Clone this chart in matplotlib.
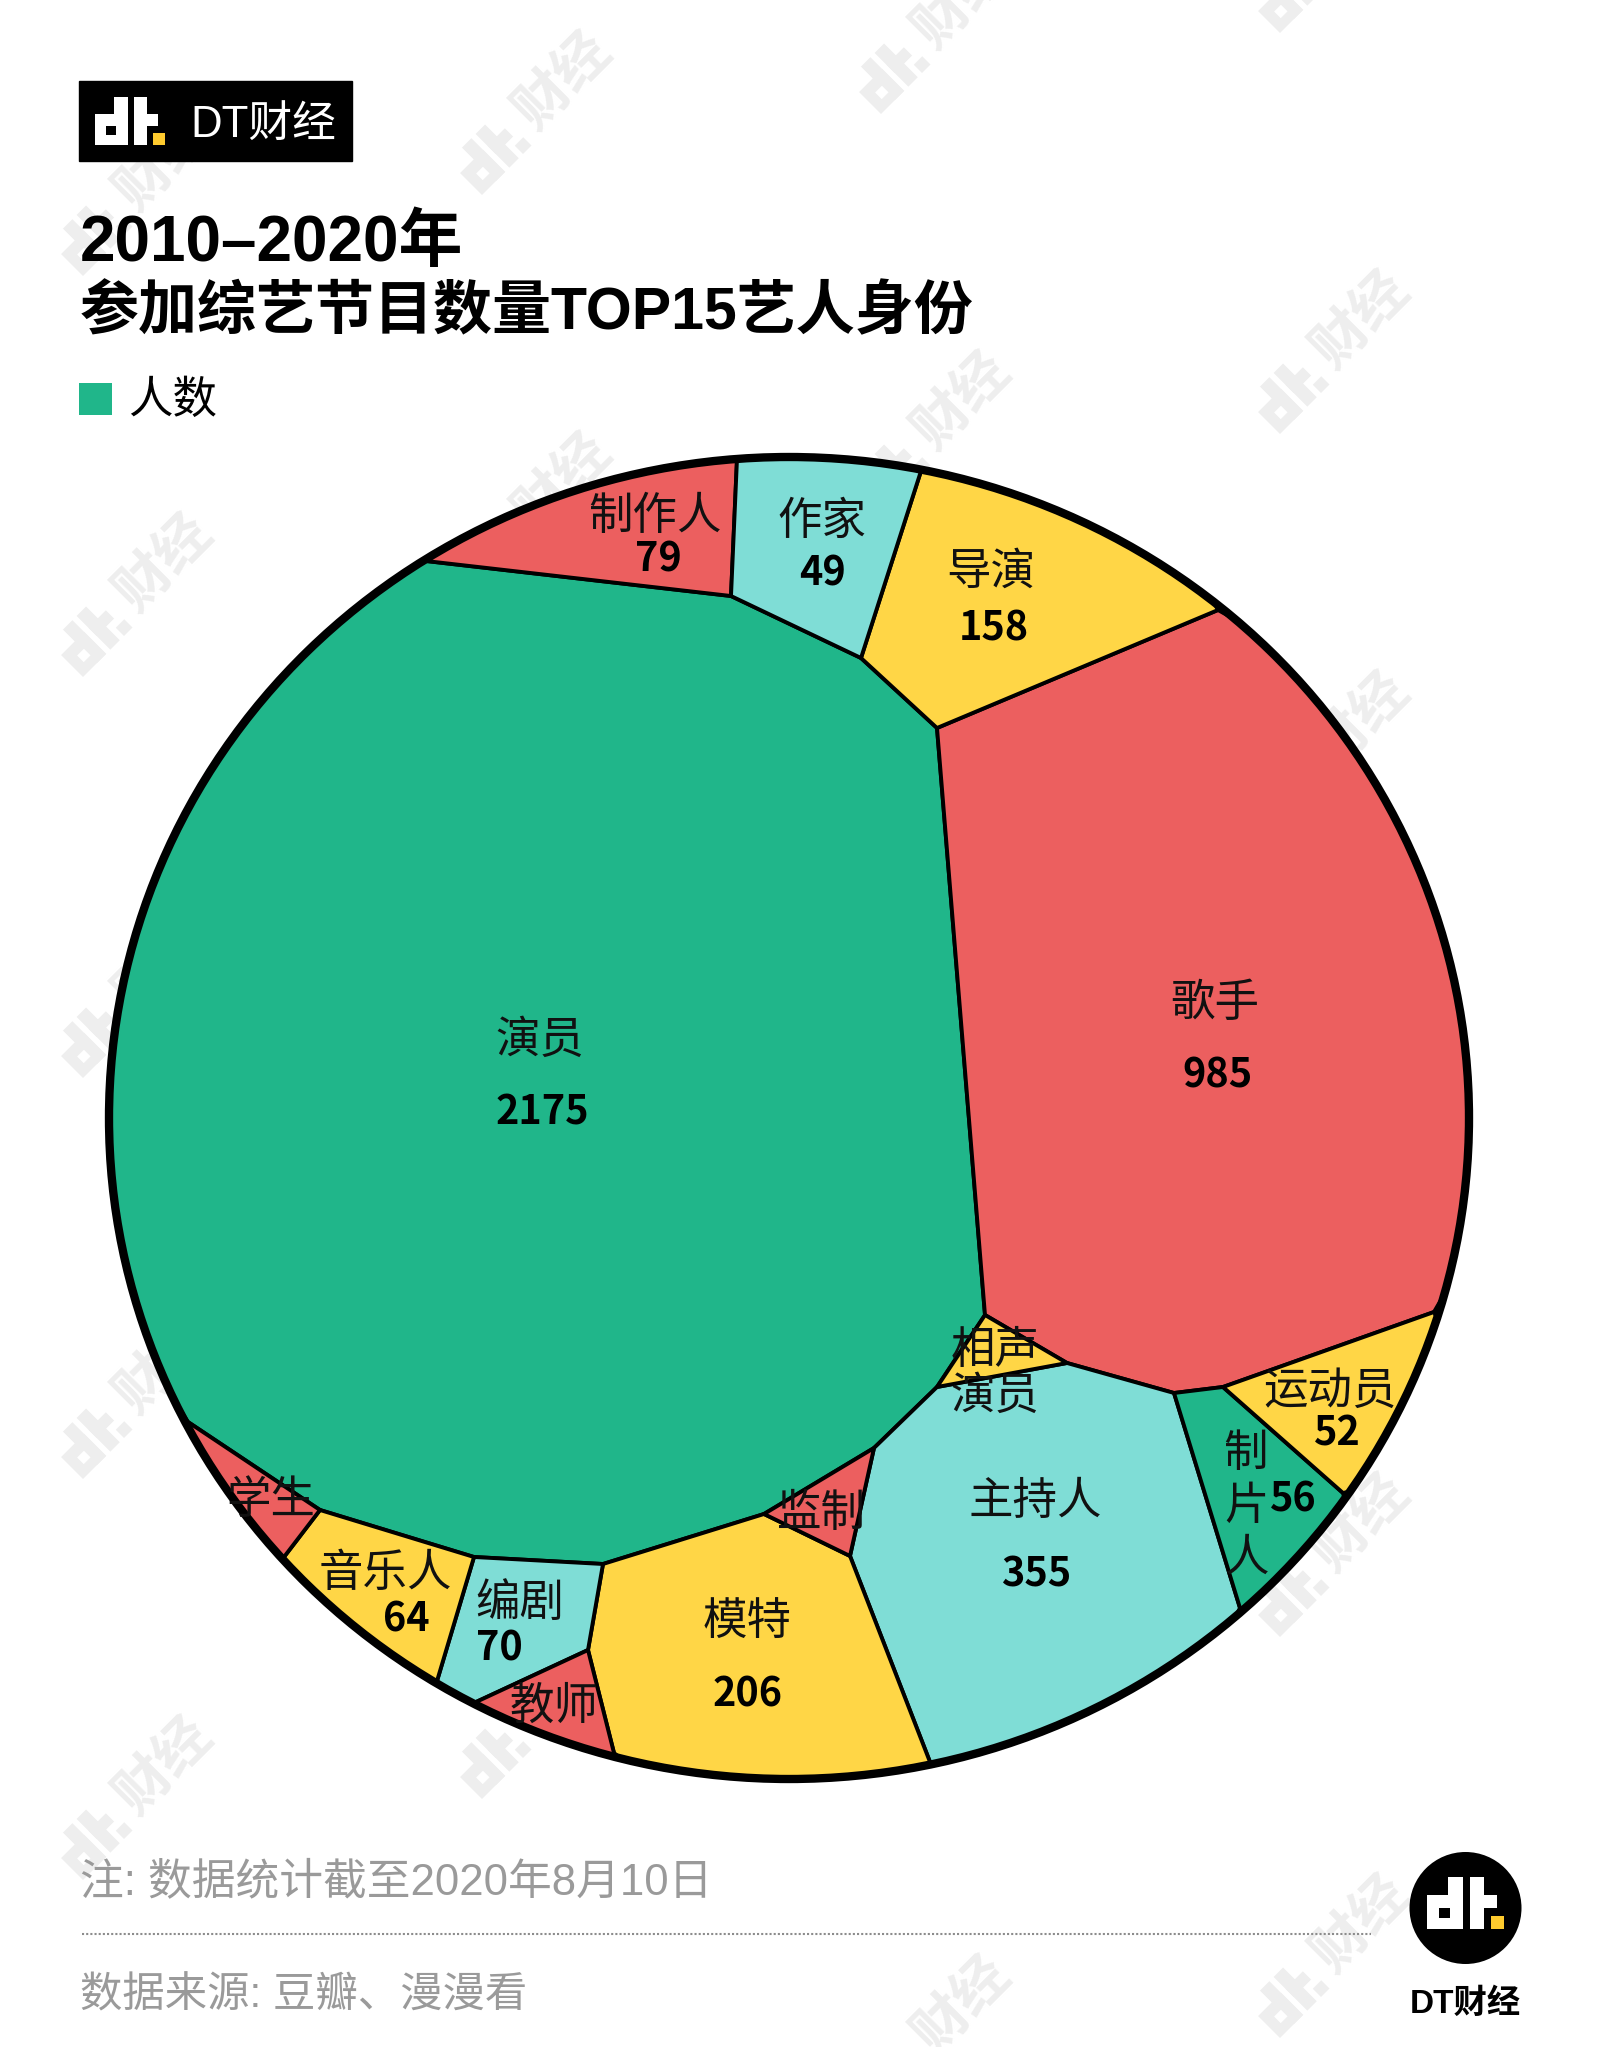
import numpy as np
import matplotlib
matplotlib.use("Agg")
import matplotlib.pyplot as plt
from matplotlib.patches import Rectangle, Ellipse, Circle

# %%
# data: Voronoi cells
roles = ["演员", "歌手", "主持人", "模特", "导演", "制作人", "编剧", "音乐人",
         "制片人", "运动员", "作家", "相声演员", "监制", "教师", "学生"]
counts = [2175, 985, 355, 206, 158, 79, 70, 64, 56, 52, 49, None, None, None, None]

GREEN, RED, TEAL, YELLOW = "#20B68A", "#EC5F5F", "#7FDDD6", "#FFD646"
cell_colors = [GREEN, RED, TEAL, YELLOW, YELLOW, RED, TEAL, YELLOW,
               GREEN, YELLOW, TEAL, YELLOW, RED, RED, RED]

# cell corners, in image pixels
A, B, C, D, E, F, G = (426, 561), (731, 596), (737, 459), (921, 471), (861, 658), (937, 728), (1218, 610)
H, I, J, K, L, M, N = (985, 1315), (937, 1387), (1067, 1363), (1174, 1393), (1223, 1387), (1434, 1312), (1343, 1493)
O, P, Q, R, S, T, U = (1240, 1608), (930, 1762), (850, 1556), (874, 1448), (764, 1514), (603, 1564), (474, 1557)
V, W, X, Y, Z = (320, 1510), (188, 1422), (284, 1557), (437, 1681), (476, 1702)
AA, AB = (588, 1650), (614, 1753)
rim = {A, C, D, G, M, N, O, P, AB, Z, Y, X, W}

cells = [
    [A, B, E, F, H, I, R, S, T, U, V, W],
    [F, G, M, L, K, J, H],
    [I, J, K, O, P, Q, R],
    [S, Q, P, AB, AA, T],
    [D, G, F, E],
    [A, C, B],
    [T, AA, Z, Y, U],
    [U, Y, X, V],
    [K, L, N, O],
    [L, M, N],
    [C, D, E, B],
    [H, J, I],
    [R, Q, S],
    [AA, AB, Z],
    [V, X, W],
]

# label positions: (text, x, y)
name_labels = [("演员", 540, 1040), ("歌手", 1215, 1003), ("主持人", 1035, 1501), ("模特", 747, 1621),
               ("导演", 991, 572), ("制作人", 655, 516), ("编剧", 520, 1603), ("音乐人", 385, 1573),
               ("制", 1245, 1453), ("片", 1247, 1506), ("人", 1246, 1558), ("运动员", 1330, 1391),
               ("作家", 822, 521), ("相声", 995, 1350), ("演员", 995, 1396),
               ("监制", 821, 1513), ("教师", 554, 1706), ("学生", 271, 1500)]
count_labels = [(2175, 542, 1113), (985, 1217, 1076), (355, 1036, 1575), (206, 748, 1695),
                (158, 994, 629), (79, 658, 560), (70, 499, 1649), (64, 406, 1620),
                (56, 1293, 1500), (52, 1337, 1434), (49, 823, 574)]

# %%
W_PX, H_PX = 1601, 2047
CX, CY, RX, RY = 789, 1118, 680, 661

CJK = "Noto Sans CJK SC"
MIXED = ["Liberation Sans", CJK]

fig = plt.figure(figsize=(W_PX / 100, H_PX / 100), dpi=100)
ax = fig.add_axes([0, 0, 1, 1])
ax.set_xlim(0, W_PX)
ax.set_ylim(H_PX, 0)
ax.axis("off")


def arc(p, q):
    # points on the big ellipse between two rim corners, the short way round
    a = np.arctan2((p[1] - CY) / RY, (p[0] - CX) / RX)
    b = np.arctan2((q[1] - CY) / RY, (q[0] - CX) / RX)
    d = (b - a + np.pi) % (2 * np.pi) - np.pi
    t = a + d * np.linspace(0, 1, 40)[1:-1]
    return list(zip(CX + RX * np.cos(t), CY + RY * np.sin(t)))


def logo(x, y, w, main="white", dot="#FFCB2E", hole="black", zorder=5, angle=0):
    # dt. logo; (x, y) is the bottom left corner, w the full width
    k = w / 210
    parts = [(0, 50, 98, 93, main), (58, 0, 40, 143, main), (33, 85, 29, 28, hole),
             (116, 0, 40, 143, main), (116, 50, 74, 35, main), (174, 108, 36, 35, dot)]
    c, s = np.cos(np.radians(angle)), np.sin(np.radians(angle))
    for px, py, pw, ph, col in parts:
        box = np.array([[px, py], [px + pw, py], [px + pw, py + ph], [px, py + ph]]) * k
        box[:, 1] -= 143 * k
        rx = x + box[:, 0] * c + box[:, 1] * s
        ry = y - box[:, 0] * s + box[:, 1] * c
        ax.fill(rx, ry, color=col, lw=0, zorder=zorder)


# %%
# watermark lattice, only the ones that are not hidden under the circle or off the page
for col in range(0, 4):
    for row in range(-1, 6):
        x0 = 83 + col * 399
        y0 = 677 - col * 81 + row * 401
        lx, ly = x0 + 81, y0 - 114
        inside = ((lx - CX) / RX) ** 2 + ((ly - CY) / RY) ** 2 < 0.7
        logo_inside = ((x0 + 25 - CX) / RX) ** 2 + ((y0 - 25 - CY) / RY) ** 2 < 0.7
        if not logo_inside and y0 < H_PX + 60:
            logo(x0, y0, 70, main="#EEEEEE", dot="#EEEEEE", hole="white", zorder=1, angle=45)
        if not inside and -30 < ly < H_PX + 30:
            ax.text(lx, ly, "财经", family=CJK, fontsize=40, fontweight="bold",
                    color="#EEEEEE", rotation=45, ha="center", va="center", zorder=1)

# %%
# cells
for pts, col in zip(cells, cell_colors):
    path = []
    for i, p in enumerate(pts):
        q = pts[(i + 1) % len(pts)]
        path.append(p)
        if p in rim and q in rim:
            path.extend(arc(p, q))
    xy = np.array(path)
    ax.fill(xy[:, 0], xy[:, 1], facecolor=col, edgecolor="black", lw=2.8, joinstyle="miter", zorder=2)

ax.add_patch(Ellipse((CX, CY), 2 * RX, 2 * RY, fill=False, edgecolor="black", lw=6, zorder=3))

for txt, x, y in name_labels:
    ax.text(x, y, txt, family=CJK, fontsize=32, ha="center", va="center", color="#111111", zorder=4)
for val, x, y in count_labels:
    ax.text(x, y, str(val), family=CJK, fontsize=28.5, fontweight="bold", ha="center", va="center",
            color="black", zorder=4)

# %%
# header
ax.add_patch(Rectangle((79, 81), 273, 80, color="black", zorder=5))
logo(95, 145, 70)
ax.text(190, 125, "DT财经", family=MIXED, fontsize=31.5, color="white", ha="left", va="center", zorder=6)

ax.text(80, 244, "2010–2020年", family=MIXED, fontsize=46, fontweight="bold", ha="left", va="center", zorder=6)
ax.text(80, 313, "参加综艺节目数量TOP15艺人身份", family=MIXED, fontsize=42.5, fontweight="bold",
        ha="left", va="center", zorder=6)

ax.add_patch(Rectangle((79, 383), 33, 32, color=GREEN, lw=0, zorder=5))
ax.text(128, 400, "人数", family=CJK, fontsize=32, fontweight="light", ha="left", va="center", zorder=6)

# %%
# footer
ax.text(80, 1883, "注: 数据统计截至2020年8月10日", family=MIXED, fontsize=31.5, fontweight="light",
        color="#9A9A9A", ha="left", va="center", zorder=6)
ax.plot([82, 1371], [1934, 1934], color="#8C8C8C", lw=1.5, ls=(0, (1, 1)), zorder=6)
ax.text(80, 1996, "数据来源: 豆瓣、漫漫看", family=MIXED, fontsize=30.5, fontweight="light",
        color="#9A9A9A", ha="left", va="center", zorder=6)

ax.add_patch(Circle((1465.5, 1908), 56, color="black", lw=0, zorder=5))
logo(1427, 1929, 77)
ax.text(1465, 2004, "DT财经", family=MIXED, fontsize=24, fontweight="bold", ha="center", va="center", zorder=6)

fig.savefig("out.png", dpi=100)
